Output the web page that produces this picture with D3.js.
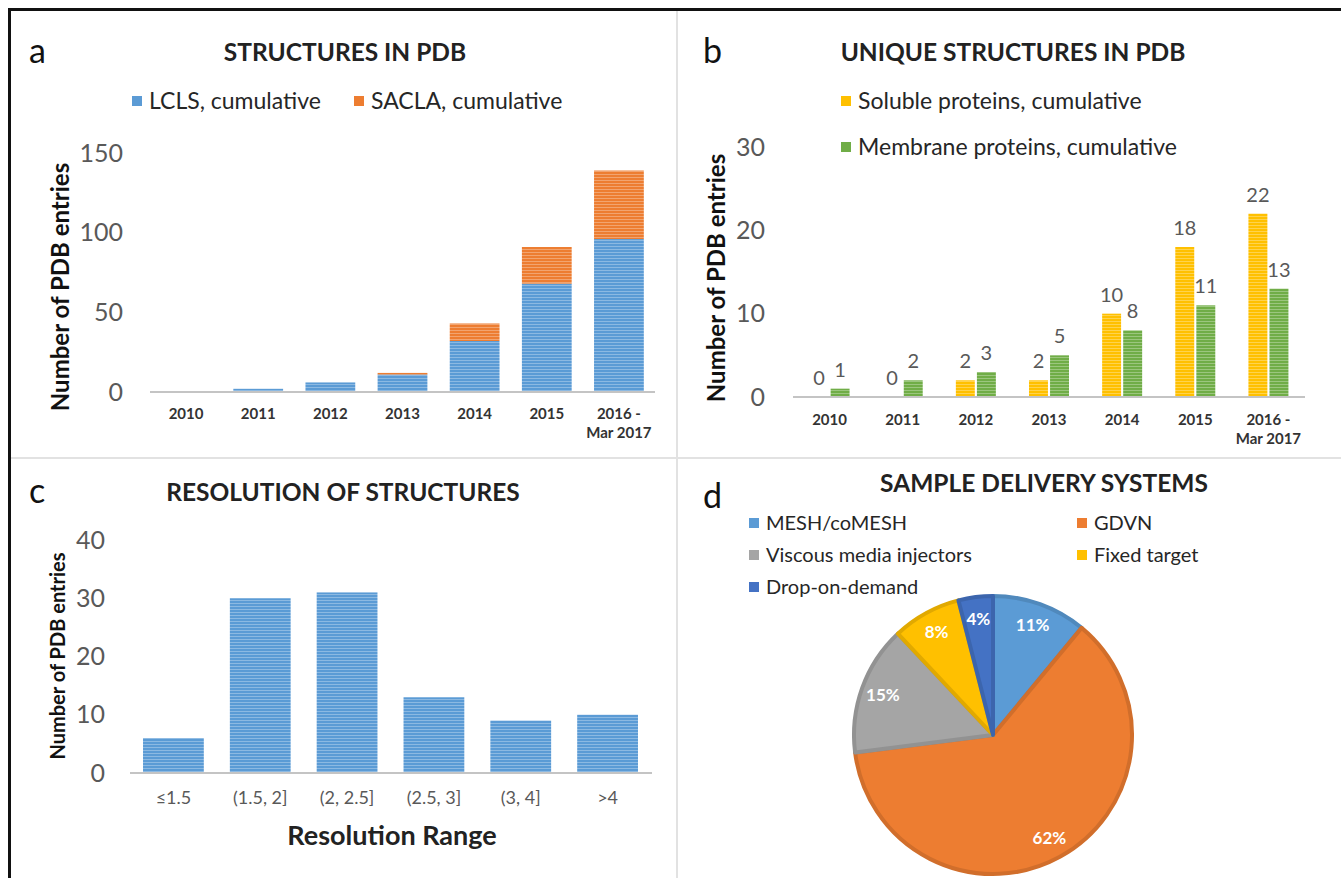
<!DOCTYPE html>
<html>
<head>
<meta charset="utf-8">
<script src="https://cdn.jsdelivr.net/npm/d3@7"></script>
<style>
  html, body { margin: 0; padding: 0; background: #fff; }
  svg { display: block; font-family: Lato, 'Open Sans', sans-serif; }
</style>
</head>
<body>
<svg id="fig" width="1341" height="878"></svg>
<script>
// ============================================================
// XFEL figure — four panels (a, b, c, d)
// ============================================================

// ---- data ----
const years = ['2010', '2011', '2012', '2013', '2014', '2015', '2016 -|Mar 2017'];
const lclsCum = [0, 2, 6, 11, 32, 68, 96];
const saclaCum = [0, 0, 0, 1, 11, 23, 43];

const solubleCum = [0, 0, 2, 2, 10, 18, 22];
const membraneCum = [1, 2, 3, 5, 8, 11, 13];

const resRanges = ['≤1.5', '(1.5, 2]', '(2, 2.5]', '(2.5, 3]', '(3, 4]', '>4'];
const resCounts = [6, 30, 31, 13, 9, 10];

const deliveryNames = ['MESH/coMESH', 'GDVN', 'Viscous media injectors', 'Fixed target', 'Drop-on-demand'];
const deliveryShare = [11, 62, 15, 8, 4];

const ticksA = [0, 50, 100, 150];
const ticksB = [0, 10, 20, 30];
const ticksC = [0, 10, 20, 30, 40];

// ---- shared constants ----
const C = {
  blue: '#5b9bd5', orange: '#ed7d31', gray: '#a5a5a5',
  gold: '#ffc000', dblue: '#4472c4', green: '#70ad47'
};
const tickCol = '#595959';
const axisCol = '#c4c4c4';

const svg = d3.select('#fig');
const defs = svg.append('defs');

// striped fill like the original's textured bars
function stripes(id, col) {
  const p = defs.append('pattern').attr('id', id)
    .attr('patternUnits', 'userSpaceOnUse').attr('width', 8).attr('height', 3);
  p.append('rect').attr('width', 8).attr('height', 3).attr('fill', col);
  p.append('rect').attr('width', 8).attr('height', 1).attr('fill', d3.interpolateRgb(col, '#fff')(0.3));
  return `url(#${id})`;
}
const fillBlue = stripes('stBlue', C.blue);
const fillOrange = stripes('stOrange', C.orange);
const fillGold = stripes('stGold', C.gold);
const fillGreen = stripes('stGreen', C.green);

// ---- frame ----
svg.append('line').attr('x1', 677).attr('x2', 677).attr('y1', 11).attr('y2', 878)
  .style('stroke', '#e2e2e2').style('stroke-width', 2);
svg.append('line').attr('x1', 11).attr('x2', 1341).attr('y1', 458).attr('y2', 458)
  .style('stroke', '#e2e2e2').style('stroke-width', 2);
svg.append('line').attr('x1', 8).attr('x2', 1341).attr('y1', 9.5).attr('y2', 9.5)
  .style('stroke', '#111').style('stroke-width', 3);
svg.append('line').attr('x1', 9.5).attr('x2', 9.5).attr('y1', 8).attr('y2', 878)
  .style('stroke', '#111').style('stroke-width', 3);

function panelLabel(txt, x, y) {
  svg.append('text').attr('x', x).attr('y', y)
    .style('font-size', '34px').style('fill', '#111').text(txt);
}
function panelTitle(txt, x, y) {
  svg.append('text').attr('x', x).attr('y', y).attr('text-anchor', 'middle')
    .style('font-size', '24.5px').style('font-weight', 700).style('fill', '#222').text(txt);
}
function yTitle(txt, x, y, size) {
  svg.append('text').attr('transform', `translate(${x},${y}) rotate(-90)`)
    .attr('text-anchor', 'middle').attr('dy', '0.35em')
    .style('font-size', size + 'px').style('font-weight', 700).style('fill', '#111').text(txt);
}
function yAxis(scale, ticks, x, size) {
  const g = svg.append('g').attr('transform', `translate(${x},0)`)
    .call(d3.axisLeft(scale).tickValues(ticks).tickSize(0).tickPadding(0));
  g.select('.domain').remove();
  g.selectAll('text').style('font-size', size + 'px').style('fill', tickCol)
    .style('font-family', 'Lato, sans-serif');
}
function baseline(x1, x2, y) {
  svg.append('line').attr('x1', x1).attr('x2', x2).attr('y1', y).attr('y2', y)
    .style('stroke', axisCol).style('stroke-width', 2);
}
function yearLabels(scale, y) {
  years.forEach(yr => {
    const parts = yr.split('|');
    const t = svg.append('text').attr('x', scale(yr) + scale.bandwidth() / 2).attr('y', y)
      .attr('text-anchor', 'middle')
      .style('font-size', '15px').style('font-weight', 700).style('fill', '#333');
    parts.forEach((p, i) => t.append('tspan')
      .attr('x', scale(yr) + scale.bandwidth() / 2).attr('dy', i ? 19 : 0).text(p));
  });
}
function legendItem(x, y, col, txt, size) {
  svg.append('rect').attr('x', x).attr('y', y - 5).attr('width', 10).attr('height', 10).attr('fill', col);
  svg.append('text').attr('x', x + 17).attr('y', y).attr('dy', '0.35em')
    .style('font-size', size + 'px').style('fill', '#262626').text(txt);
}

// ============================================================
// a — STRUCTURES IN PDB (stacked)
// ============================================================
panelLabel('a', 29, 63);
panelTitle('STRUCTURES IN PDB', 345, 61);
legendItem(132, 101, C.blue, 'LCLS, cumulative', 23);
legendItem(354, 101, C.orange, 'SACLA, cumulative', 23);

const xA = d3.scaleBand().domain(years).range([150, 655]).paddingInner(0.31).paddingOuter(0.155);
const yA = d3.scaleLinear().domain([0, 150]).range([392, 153]);

yAxis(yA, ticksA, 123, 25);
yTitle('Number of PDB entries', 61, 287, 24);

const stackA = years.map((yr, i) => ({ yr, lcls: lclsCum[i], sacla: saclaCum[i] }));
svg.append('g').selectAll('rect.lcls').data(stackA).join('rect')
  .attr('x', d => xA(d.yr)).attr('width', xA.bandwidth())
  .attr('y', d => yA(d.lcls)).attr('height', d => yA(0) - yA(d.lcls))
  .attr('fill', fillBlue);
svg.append('g').selectAll('rect.sacla').data(stackA).join('rect')
  .attr('x', d => xA(d.yr)).attr('width', xA.bandwidth())
  .attr('y', d => yA(d.lcls + d.sacla)).attr('height', d => yA(d.lcls) - yA(d.lcls + d.sacla))
  .attr('fill', fillOrange);
baseline(150, 655, 392);
yearLabels(xA, 419);

// ============================================================
// b — UNIQUE STRUCTURES IN PDB (grouped)
// ============================================================
panelLabel('b', 703, 63);
panelTitle('UNIQUE STRUCTURES IN PDB', 1013, 61);
legendItem(841, 101, C.gold, 'Soluble proteins, cumulative', 23);
legendItem(841, 147, C.green, 'Membrane proteins, cumulative', 23);

const xB = d3.scaleBand().domain(years).range([793, 1305]);
const xB2 = d3.scaleBand().domain(['sol', 'mem']).range([0, 40]).paddingInner(0.1);
const yB = d3.scaleLinear().domain([0, 30]).range([397, 147]);

yAxis(yB, ticksB, 765, 25);
yTitle('Number of PDB entries', 717, 278, 24);

const groupsB = years.map((yr, i) => ({ yr, vals: [
  { k: 'sol', v: solubleCum[i], f: fillGold },
  { k: 'mem', v: membraneCum[i], f: fillGreen }] }));
const gB = svg.append('g').selectAll('g').data(groupsB).join('g')
  .attr('transform', d => `translate(${xB(d.yr) + xB.bandwidth() / 2 - 20},0)`);
gB.selectAll('rect').data(d => d.vals).join('rect')
  .attr('x', d => xB2(d.k)).attr('width', xB2.bandwidth())
  .attr('y', d => yB(d.v)).attr('height', d => yB(0) - yB(d.v))
  .attr('fill', d => d.f);
gB.selectAll('text').data(d => d.vals).join('text')
  .attr('x', d => xB2(d.k) + xB2.bandwidth() / 2).attr('y', d => yB(d.v) - 12)
  .attr('text-anchor', 'middle')
  .style('font-size', '20px').style('fill', tickCol)
  .text(d => d.v);
baseline(793, 1305, 397);
yearLabels(xB, 425);

// ============================================================
// c — RESOLUTION OF STRUCTURES
// ============================================================
panelLabel('c', 29, 503);
panelTitle('RESOLUTION OF STRUCTURES', 343, 501);

const xC = d3.scaleBand().domain(resRanges).range([130, 651]).paddingInner(0.3).paddingOuter(0.15);
const yC = d3.scaleLinear().domain([0, 40]).range([773, 540]);

yAxis(yC, ticksC, 105, 25);
yTitle('Number of PDB entries', 58, 656, 20);

svg.append('g').selectAll('rect').data(resRanges).join('rect')
  .attr('x', d => xC(d)).attr('width', xC.bandwidth())
  .attr('y', (d, i) => yC(resCounts[i])).attr('height', (d, i) => yC(0) - yC(resCounts[i]))
  .attr('fill', fillBlue);
baseline(130, 652, 773);

const gxC = svg.append('g').attr('transform', 'translate(0,773)')
  .call(d3.axisBottom(xC).tickSize(0).tickPadding(18));
gxC.select('.domain').remove();
gxC.selectAll('text').style('font-size', '18px').style('fill', tickCol)
  .style('font-family', 'Lato, sans-serif');

svg.append('text').attr('x', 392).attr('y', 845).attr('text-anchor', 'middle')
  .style('font-size', '27px').style('font-weight', 700).style('fill', '#222')
  .text('Resolution Range');

// ============================================================
// d — SAMPLE DELIVERY SYSTEMS (pie)
// ============================================================
panelLabel('d', 703, 508);
panelTitle('SAMPLE DELIVERY SYSTEMS', 1044, 492);

const pieCols = [C.blue, C.orange, C.gray, C.gold, C.dblue];
const legPos = [[749, 523], [1077, 523], [749, 555], [1077, 555], [749, 587]];
deliveryNames.forEach((n, i) => legendItem(legPos[i][0], legPos[i][1], pieCols[i], n, 20));

const R = 141;
const pieData = d3.pie().sort(null).value(d => d)(deliveryShare);
const arc = d3.arc().innerRadius(0).outerRadius(R - 2);
const labelArc = d3.arc().innerRadius(R * 0.83).outerRadius(R * 0.83);

const gD = svg.append('g').attr('transform', 'translate(993,735)');
gD.selectAll('path').data(pieData).join('path')
  .attr('d', arc)
  .attr('fill', (d, i) => pieCols[i])
  .attr('stroke', (d, i) => d3.color(pieCols[i]).darker(0.35))
  .attr('stroke-width', 4)
  .attr('stroke-linejoin', 'round');
gD.selectAll('text').data(pieData).join('text')
  .attr('transform', d => `translate(${labelArc.centroid(d)})`)
  .attr('text-anchor', 'middle').attr('dy', '0.35em')
  .style('font-size', '17px').style('font-weight', 700).style('fill', '#fff')
  .text(d => d.data + '%');
</script>
</body>
</html>
